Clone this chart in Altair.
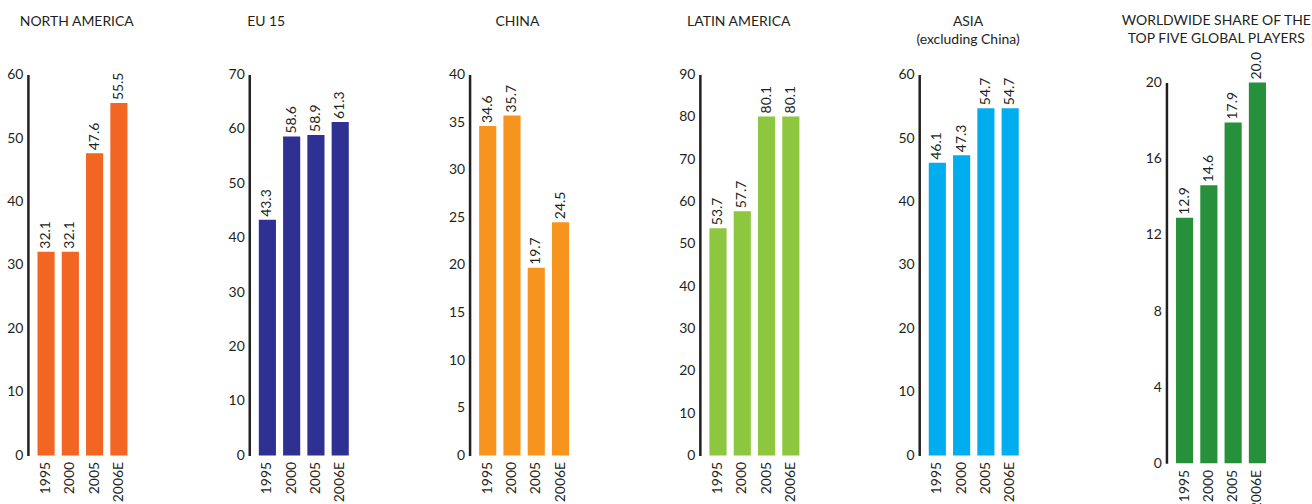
import altair as alt
import pandas as pd

# Market share by region, one panel per region
years = ["1995", "2000", "2005", "2006E"]
north_america = [32.1, 32.1, 47.6, 55.5]
eu15 = [43.3, 58.6, 58.9, 61.3]
china = [34.6, 35.7, 19.7, 24.5]
latin_america = [53.7, 57.7, 80.1, 80.1]
asia_ex_china = [46.1, 47.3, 54.7, 54.7]
top_five_share = [12.9, 14.6, 17.9, 20.0]

FONT = "Lato"
INK = "#231f20"
NUM_SIZE = 14       # tick, year and value labels
STEP = 24.35        # distance between bar starts
INNER = 0.294       # inner band padding
FIRST_BAR = 9.6     # gap between y axis line and first bar
BAR_SPAN = 110      # pixel span used by the four bars of a panel
PLOT_H = 382


def band_scale():
    """Band scale over a fixed pixel span, bars packed next to the axis."""
    n = len(years)
    used = STEP * (n - INNER)
    outer = (BAR_SPAN / STEP - (n - INNER)) / 2
    align = FIRST_BAR / (BAR_SPAN - used)
    return alt.Scale(paddingInner=INNER, paddingOuter=round(outer, 4),
                     align=round(align, 4), range=[0, BAR_SPAN])


def panel(values, color, title_lines, y_max, y_ticks, width, title_center,
          title_offset, height=PLOT_H, top=0):
    df = pd.DataFrame({"year": years, "value": values})
    base = alt.Chart(df)
    x = alt.X(
        "year:N", sort=years, scale=band_scale(),
        axis=alt.Axis(title=None, labelAngle=270, domain=False, ticks=False,
                      grid=False, labelPadding=6, labelFontSize=NUM_SIZE,
                      labelFont=FONT, labelColor=INK),
    )
    y_scale = alt.Scale(domain=[0, y_max], nice=False, zero=True,
                        range=[height, top])
    y = alt.Y(
        "value:Q", scale=y_scale,
        axis=alt.Axis(title=None, values=y_ticks, grid=False, ticks=False,
                      tickSize=0, labelPadding=5, labelFlush=False,
                      domainColor=INK, domainWidth=2.5,
                      labelFontSize=NUM_SIZE, labelFont=FONT,
                      labelColor=INK),
    )
    bars = base.mark_bar(color=color).encode(x=x, y=y)
    labels = base.mark_text(
        angle=270, align="left", baseline="middle", dx=3,
        font=FONT, fontSize=NUM_SIZE, color=INK,
    ).encode(x=x, y=y, text=alt.Text("value:Q", format=".1f"))
    title = alt.TitleParams(
        text=title_lines, anchor="middle", dx=title_center - width / 2,
        offset=title_offset, font=FONT, fontSize=14, fontWeight="normal",
        color=INK, lineHeight=18,
    )
    return alt.layer(bars, labels).properties(width=width, height=height,
                                              title=title)


charts = [
    panel(north_america, "#f26522", ["NORTH AMERICA"], 60,
          [0, 10, 20, 30, 40, 50, 60], 222, 49, 39),
    panel(eu15, "#2e3192", ["EU 15"], 70,
          [0, 10, 20, 30, 40, 50, 60, 70], 221, 17, 39),
    panel(china, "#f7941d", ["CHINA"], 40,
          [0, 5, 10, 15, 20, 25, 30, 35, 40], 231, 48, 39),
    panel(latin_america, "#8dc63f", ["LATIN AMERICA"], 90,
          [0, 10, 20, 30, 40, 50, 60, 70, 80, 90], 220, 39, 39),
    panel(asia_ex_china, "#00aeef", ["ASIA", "(excluding China)"], 60,
          [0, 10, 20, 30, 40, 50, 60], 248, 49, 21),
    panel(top_five_share, "#26913a",
          ["WORLDWIDE SHARE OF THE", "TOP FIVE GLOBAL PLAYERS"], 20,
          [0, 4, 8, 12, 16, 20], 110, 50, 6, height=PLOT_H + 8, top=8),
]

chart = (
    alt.hconcat(*charts, spacing=0, bounds="flush")
    .properties(padding={"left": 6, "top": 13, "right": 0, "bottom": 0},
                background="white")
    .configure_view(strokeWidth=0, stroke="transparent")
)

chart.save("out.html", embed_options={"renderer": "svg", "actions": False})
